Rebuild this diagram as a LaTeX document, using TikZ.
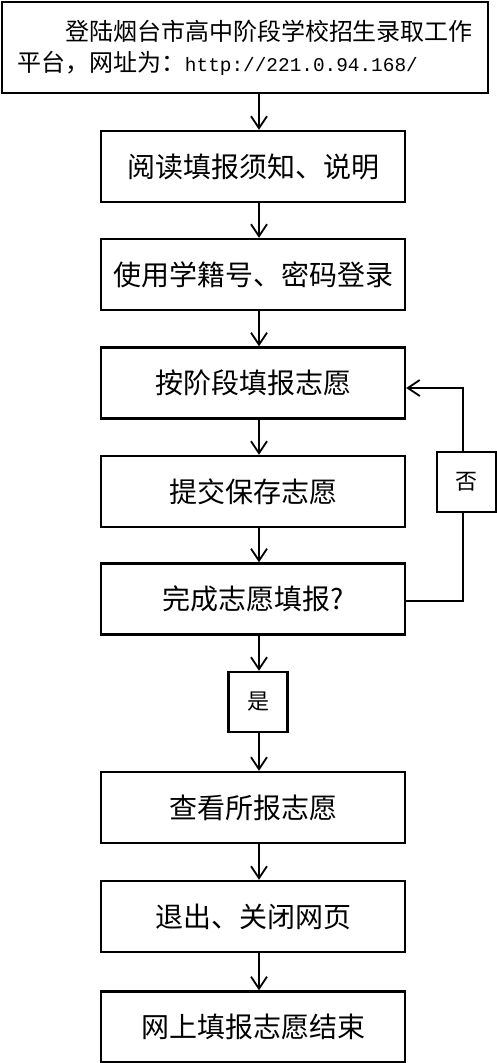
\documentclass[tikz,border=0pt]{standalone}
\usepackage{fontspec}
\setmainfont{Noto Sans CJK SC}
\newfontfamily\urlfont{Liberation Mono}
\usepackage{tikz}
\usetikzlibrary{arrows.meta}

\begin{document}
\begin{tikzpicture}[x=1pt, y=-1pt,
  stepbox/.style={draw, line width=2.4pt, minimum width=304pt, minimum height=71pt, font=\fontsize{28}{32}\selectfont},
  answer/.style={draw, line width=2.4pt, minimum width=59pt, minimum height=60pt, font=\fontsize{22}{26}\selectfont},
  flow/.style={line width=1.8pt, -{Straight Barb[length=12pt, width=16pt, line width=1.8pt]}}]
  \useasboundingbox (0,0) rectangle (497,1063);
  \node (login) [draw, line width=2.4pt, minimum width=486pt, minimum height=91pt, inner xsep=15pt,
    text width=456pt, align=left, font=\fontsize{24}{31}\selectfont] at (245,47.5)
    {\hspace*{2em}登陆烟台市高中阶段学校招生录取工作\\平台，网址为：{\urlfont\fontsize{19.4}{31}\selectfont http://221.0.94.168/}};
  \node (read)   [stepbox] at (253,166.5)  {阅读填报须知、说明};
  \node (sign)   [stepbox] at (253,274.5)  {使用学籍号、密码登录};
  \node (fill)   [stepbox] at (253,383)    {按阶段填报志愿};
  \node (save)   [stepbox] at (253,491.5)  {提交保存志愿};
  \node (done)   [stepbox] at (253,599)    {完成志愿填报?};
  \node (yes)    [answer]  at (258,702)    {是};
  \node (view)   [stepbox] at (253,807.5)  {查看所报志愿};
  \node (quit)   [stepbox] at (253,916.5)  {退出、关闭网页};
  \node (finish) [stepbox] at (253,1027)   {网上填报志愿结束};
  \node (no)     [answer]  at (466.5,482)  {否};

  \path[flow]
  ([xshift=14pt]login.south) edge ([xshift=6pt]read.north)
  ([xshift=6pt]read.south) edge ([xshift=6pt]sign.north)
  ([xshift=6pt]sign.south) edge ([xshift=6pt]fill.north)
  ([xshift=6pt]fill.south) edge ([xshift=6pt]save.north)
  ([xshift=6pt]save.south) edge ([xshift=6pt]done.north)
  ([xshift=6pt]done.south) edge ([xshift=1pt]yes.north)
  ([xshift=1pt]yes.south) edge ([xshift=6pt]view.north)
  ([xshift=6pt]view.south) edge ([xshift=6pt]quit.north)
  ([xshift=6pt]quit.south) edge ([xshift=6pt]finish.north);
  \draw[line width=1.8pt] ([yshift=-2pt]done.east) -| ([xshift=-3.5pt]no.south);
  \draw[flow] ([xshift=-3.5pt]no.north) |- ([yshift=-5pt]fill.east);
\end{tikzpicture}
\end{document}
